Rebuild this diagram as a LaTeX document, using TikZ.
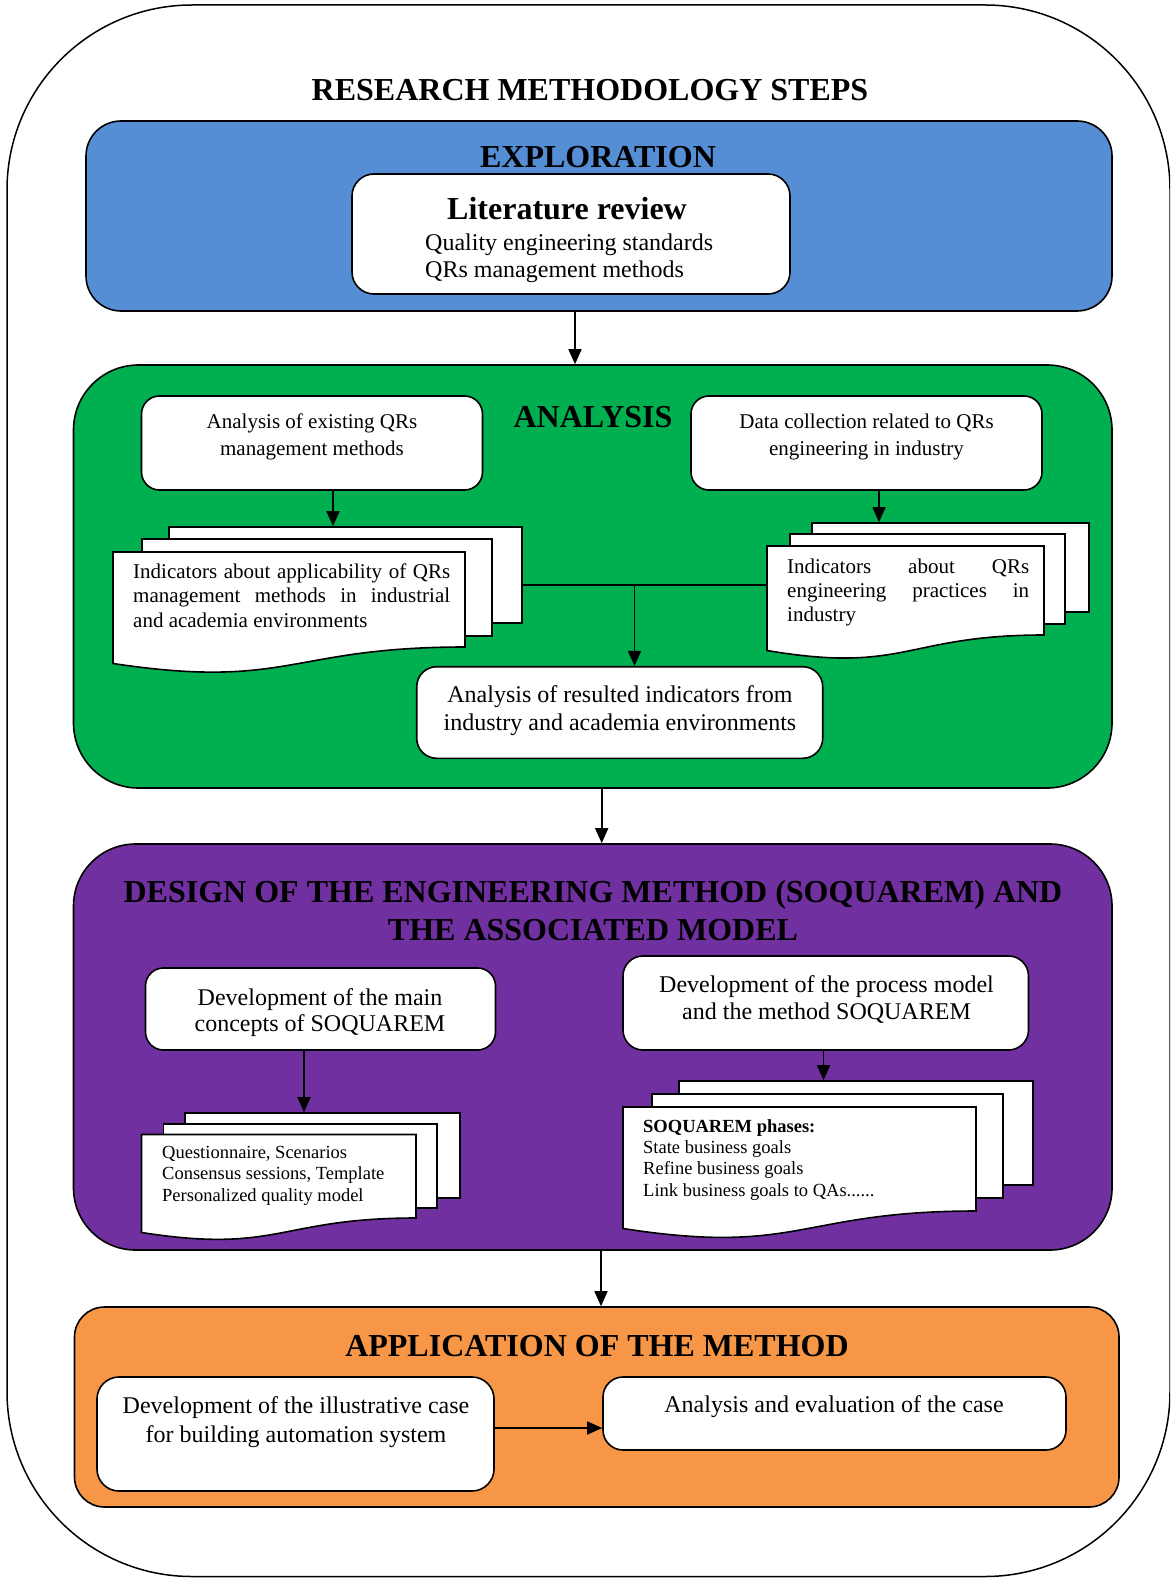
\documentclass[tikz,border=0pt]{standalone}
\usepackage{fontspec}
\setmainfont{Liberation Serif}
\usetikzlibrary{arrows.meta}
\definecolor{cblue}{HTML}{558ED5}
\definecolor{cgreen}{HTML}{00B050}
\definecolor{cpurple}{HTML}{7030A0}
\definecolor{corange}{HTML}{F79646}
\newcommand{\fsz}[2]{\fontsize{#1}{#2}\selectfont}
\tikzset{
  panel/.style={draw=black, line width=1.6pt, inner sep=0pt},
  wbox/.style={draw=black, fill=white, line width=1.6pt, inner sep=0pt},
  page/.style={draw=black, fill=white, line width=1.6pt, inner sep=0pt},
  arr/.style={line width=1.6pt, -{Triangle[length=15pt,width=13pt]}},
  conn/.style={line width=1.6pt},
  txt/.style={inner sep=0pt, text=black},
  hdr/.style={inner sep=0pt, text=black, font=\fsz{32}{37}\bfseries},
  ghost/.style={inner sep=0pt, draw=none},
}
\begin{document}
\begin{tikzpicture}[x=1pt,y=-1pt]
\useasboundingbox (0,0) rectangle (1170,1578);
\clip (0,0) rectangle (1170,1578);
\fill[white] (0,0) rectangle (1170,1578);
% outer frame
\draw[line width=1.5pt, rounded corners=185pt] (7,5) rectangle (1170,1576.5);
\node[hdr, anchor=base] (title) at (590,101) {RESEARCH METHODOLOGY STEPS};

% ---------------- EXPLORATION
\node[panel, fill=cblue, rounded corners=35pt, minimum width=1026pt, minimum height=190pt] (expl) at (599,216) {};
\node[hdr, anchor=base] (explT) at (598,168) {EXPLORATION};
\node[wbox, rounded corners=22pt, minimum width=438pt, minimum height=120pt] (lit) at (571,234) {};
\node[txt, anchor=base, font=\fsz{32}{37}\bfseries] (litT) at (567,220) {Literature review};
\node[txt, anchor=north west, align=left, font=\fsz{24}{27}] (litB) at (425,231.1) {\strut Quality engineering standards\\QRs management methods};

% ---------------- ANALYSIS
\node[panel, fill=cgreen, rounded corners=65pt, minimum width=1038.5pt, minimum height=423pt] (ana) at (592.75,576.5) {};
\node[hdr, anchor=base] (anaT) at (593,427) {ANALYSIS};
\node[wbox, rounded corners=18pt, minimum width=341pt, minimum height=94pt] (a1) at (312,443) {};
\node[txt, anchor=north, align=center, font=\fsz{21}{27}] (a1T) at (312,409.1) {\strut Analysis of existing QRs\\management methods};
\node[wbox, rounded corners=18pt, minimum width=351pt, minimum height=94pt] (a2) at (866.5,443) {};
\node[txt, anchor=north, align=center, font=\fsz{21}{27}] (a2T) at (866.5,409.1) {\strut Data collection related to QRs\\engineering in industry};

% left document stack
\node[page, minimum width=353pt, minimum height=96pt] (dLb) at (345.5,575) {};
\node[page, minimum width=350pt, minimum height=97pt] (dLm) at (317,587.5) {};
\draw[page] (113,552) -- (465,552) -- (465,647) .. controls (289,647) and (289,690) .. (113,663.5) -- cycle;
\node[ghost, minimum width=352pt, minimum height=95pt] (dLf) at (289,599.5) {};
\node[txt, anchor=north west, align=left, font=\fsz{21}{24.5}] (dLT) at (133,560.85) {\strut\makebox[317pt][s]{Indicators about applicability of QRs}\\\makebox[317pt][s]{management methods in industrial}\\and academia environments};

% right document stack
\node[page, minimum width=277pt, minimum height=89pt] (dRb) at (950.5,567.5) {};
\node[page, minimum width=275pt, minimum height=90pt] (dRm) at (927.5,579) {};
\draw[page] (767,546) -- (1044,546) -- (1044,635) .. controls (905.5,635) and (905.5,674) .. (767,650.5) -- cycle;
\node[ghost, minimum width=277pt, minimum height=89pt] (dRf) at (905.5,590.5) {};
\node[txt, anchor=north west, align=left, font=\fsz{21}{24}] (dRT) at (787,556.2) {\strut\makebox[242pt][s]{Indicators about QRs}\\\makebox[242pt][s]{engineering practices in}\\industry};

% result box
\node[wbox, rounded corners=20pt, minimum width=406pt, minimum height=91.6pt] (bres) at (619.7,712.5) {};
\node[txt, anchor=north, align=center, font=\fsz{24}{27.7}] (bresT) at (620,682.9) {\strut Analysis of resulted indicators from\\industry and academia environments};

% analysis connectors
\coordinate (xa1) at (333,0);
\coordinate (xa2) at (879,0);
\coordinate (hy) at (0,585);
\coordinate (jn) at (634.5,585);
\draw[arr] (a1.south -| xa1) -- (dLb.north -| xa1);
\draw[arr] (a2.south -| xa2) -- (dRb.north -| xa2);
\draw[conn] (dLb.east |- hy) -- (dRf.west |- hy);
\draw[arr] (jn) -- (jn |- bres.north);

% ---------------- DESIGN
\node[panel, fill=cpurple, rounded corners=62pt, minimum width=1038.5pt, minimum height=406pt] (des) at (592.75,1047) {};
\node[txt, anchor=north, align=center, font=\fsz{32}{37.3}\bfseries] (desT) at (593,876.6) {\strut DESIGN OF THE ENGINEERING METHOD (SOQUAREM) AND\\THE ASSOCIATED MODEL};
\node[wbox, rounded corners=18pt, minimum width=350pt, minimum height=82pt] (p1) at (320.5,1009) {};
\node[txt, anchor=north, align=center, font=\fsz{24}{26}] (p1T) at (320,986.8) {\strut Development of the main\\concepts of SOQUAREM};
\node[wbox, rounded corners=20pt, minimum width=405.5pt, minimum height=94pt] (p2) at (825.75,1003) {};
\node[txt, anchor=north, align=center, font=\fsz{24}{27}] (p2T) at (826.5,973.1) {\strut Development of the process model\\and the method SOQUAREM};

% left purple stack
\node[page, minimum width=275pt, minimum height=85pt] (dP1b) at (322.5,1155.5) {};
\node[page, minimum width=273.5pt, minimum height=84pt] (dP1m) at (300.25,1166) {};
\draw[page] (141.5,1134.5) -- (416,1134.5) -- (416,1218) .. controls (278.75,1218) and (278.75,1254) .. (141.5,1232.5) -- cycle;
\node[ghost, minimum width=274.5pt, minimum height=83.5pt] (dP1f) at (278.75,1176.25) {};
\node[txt, anchor=north west, align=left, font=\fsz{18.5}{21.5}] (dP1T) at (162,1142.95) {\strut Questionnaire, Scenarios\\Consensus sessions, Template\\Personalized quality model};

% right purple stack
\node[page, minimum width=354pt, minimum height=104pt] (dP2b) at (856,1133) {};
\node[page, minimum width=351pt, minimum height=104pt] (dP2m) at (827.5,1146) {};
\draw[page] (623,1107) -- (976,1107) -- (976,1211) .. controls (799.5,1211) and (799.5,1256) .. (623,1228.5) -- cycle;
\node[ghost, minimum width=353pt, minimum height=104pt] (dP2f) at (799.5,1159) {};
\node[txt, anchor=north west, align=left, font=\fsz{18.5}{21.3}] (dP2T) at (643,1117.1) {\strut\textbf{SOQUAREM phases:}\\State business goals\\Refine business goals\\Link business goals to QAs......};

\coordinate (xp1) at (304,0);
\coordinate (xp2) at (823.5,0);
\draw[arr] (p1.south -| xp1) -- (dP1b.north -| xp1);
\draw[arr] (p2.south -| xp2) -- (dP2b.north -| xp2);

% ---------------- APPLICATION
\node[panel, fill=corange, rounded corners=30pt, minimum width=1044.5pt, minimum height=200pt] (app) at (596.75,1407) {};
\node[hdr, anchor=base] (appT) at (597,1356) {APPLICATION OF THE METHOD};
\node[wbox, rounded corners=22pt, minimum width=397pt, minimum height=114pt] (o1) at (295.5,1434) {};
\node[txt, anchor=north, align=center, font=\fsz{24}{29}] (o1T) at (296,1392.7) {\strut Development of the illustrative case\\for building automation system};
\node[wbox, rounded corners=20pt, minimum width=463pt, minimum height=73pt] (o2) at (834.5,1413.5) {};
\node[txt, anchor=base, font=\fsz{24}{29}] (o2T) at (834,1412) {Analysis and evaluation of the case};
\coordinate (yo) at (0,1428);
\draw[arr] (o1.east |- yo) -- (o2.west |- yo);

% ---------------- main flow arrows
\coordinate (x1) at (575,0);
\coordinate (x2) at (601.7,0);
\coordinate (x3) at (601,0);
\draw[arr] (expl.south -| x1) -- (ana.north -| x1);
\draw[arr] (ana.south -| x2) -- (des.north -| x2);
\draw[arr] (des.south -| x3) -- (app.north -| x3);
\end{tikzpicture}
\end{document}
